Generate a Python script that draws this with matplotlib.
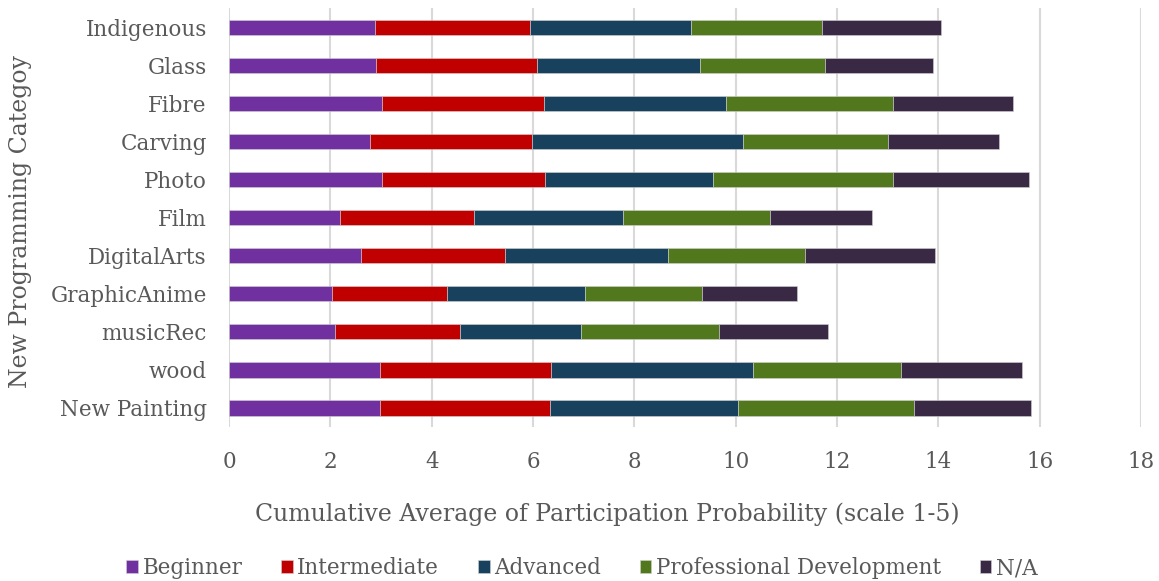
import matplotlib.pyplot as plt
import numpy as np

plt.rcParams['font.family'] = ['DejaVu Serif']

categories = ['Indigenous', 'Glass', 'Fibre', 'Carving', 'Photo', 'Film',
              'DigitalArts', 'GraphicAnime', 'musicRec', 'wood', 'New Painting']

beginner = [2.88, 2.91, 3.02, 2.78, 3.02, 2.19, 2.60, 2.03, 2.09, 2.97, 2.97]
intermediate = [3.06, 3.17, 3.20, 3.20, 3.22, 2.64, 2.85, 2.27, 2.47, 3.38, 3.36]
advanced = [3.17, 3.22, 3.59, 4.16, 3.31, 2.94, 3.21, 2.72, 2.39, 3.99, 3.71]
professional = [2.60, 2.47, 3.30, 2.86, 3.56, 2.90, 2.71, 2.31, 2.72, 2.93, 3.47]
not_applicable = [2.35, 2.13, 2.37, 2.19, 2.68, 2.01, 2.56, 1.88, 2.16, 2.37, 2.32]

series = [
    ('Beginner', beginner, '#7030A0'),
    ('Intermediate', intermediate, '#C00000'),
    ('Advanced', advanced, '#17415C'),
    ('Professional Development', professional, '#52781E'),
    ('N/A', not_applicable, '#392944'),
]

text_color = '#595959'

fig = plt.figure(figsize=(11.59, 5.81), dpi=100)
ax = fig.add_axes([0.1976, 0.265, 0.787, 0.721])

y = np.arange(len(categories))[::-1]
left = np.zeros(len(categories))
for name, vals, color in series:
    ax.barh(y, vals, left=left, height=0.4, color=color, label=name,
            edgecolor='#d0d0d0', linewidth=0.4, zorder=3)
    left += np.array(vals)

ax.set_ylim(-0.5, len(categories) - 0.5)
ax.set_xlim(0, 18)
ax.set_xticks(np.arange(0, 19, 2))
ax.set_yticks(y)
ax.set_yticklabels(categories)

ax.grid(axis='x', color='#d9d9d9', linewidth=1.5, zorder=0)
for s in ax.spines.values():
    s.set_visible(False)
ax.tick_params(axis='both', length=0, labelsize=15.5, colors=text_color)
ax.tick_params(axis='x', pad=17)
ax.tick_params(axis='y', pad=16)

# axis titles placed in figure coordinates
fig.text(0.524, 0.115, 'Cumulative Average of Participation Probability (scale 1-5)',
         fontsize=17, color=text_color, ha='center', va='center')
fig.text(0.018, 0.618, 'New Programming Categoy', fontsize=17, color=text_color,
         ha='center', va='center', rotation=90)

leg = fig.legend(loc='center', bbox_to_anchor=(0.502, 0.022), ncol=5,
                 frameon=False, fontsize=15.5, handlelength=0.55, handleheight=0.55,
                 handletextpad=0.2, columnspacing=1.8)
for t in leg.get_texts():
    t.set_color(text_color)

fig.savefig('out.png', dpi=100)
